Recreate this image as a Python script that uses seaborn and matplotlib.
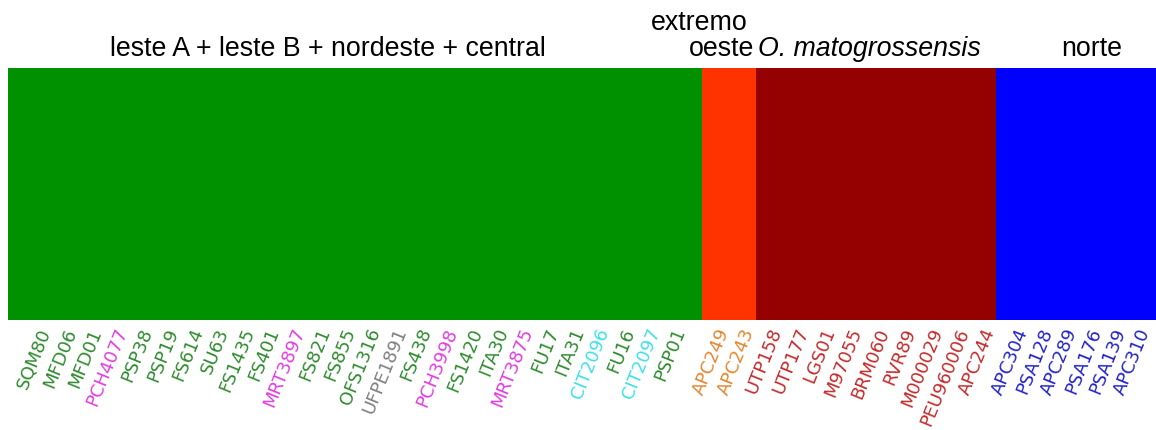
import numpy as np
import pandas as pd
import matplotlib
matplotlib.use("Agg")
import matplotlib.pyplot as plt
import seaborn as sns
from matplotlib.colors import ListedColormap
from matplotlib.transforms import blended_transform_factory

# samples in plot order
samples = ["SQM80", "MFD06", "MFD01", "PCH4077", "PSP38", "PSP19", "FS614", "SU63",
           "FS1435", "FS401", "MRT3897", "FS821", "FS855", "OFS1316", "UFPE1891",
           "FS438", "PCH3998", "FS1420", "ITA30", "MRT3875", "FU17", "ITA31",
           "CIT2096", "FU16", "CIT2097", "PSP01",
           "APC249", "APC243",
           "UTP158", "UTP177", "LGS01", "M97055", "BRM060", "RVR89", "M000029",
           "PEU960006", "APC244",
           "APC304", "PSA128", "APC289", "PSA176", "PSA139", "APC310"]

# cluster assignment (0 = leste/nordeste/central, 1 = extremo oeste,
# 2 = O. matogrossensis, 3 = norte)
cluster = [0] * 26 + [1] * 2 + [2] * 9 + [3] * 6

# label colour class per sample
label_class = ["g", "g", "g", "m", "g", "g", "g", "g", "g", "g", "m", "g", "g", "g",
               "k", "g", "m", "g", "g", "m", "g", "g", "c", "g", "c", "g",
               "o", "o",
               "r", "r", "r", "r", "r", "r", "r", "r", "r",
               "b", "b", "b", "b", "b", "b"]

cluster_colors = ["#009100", "#ff3300", "#950000", "#0000ff"]
label_colors = {"g": "#2f8a2f", "m": "#e03de0", "c": "#3fe0e6", "k": "#808080",
                "o": "#e6862e", "r": "#c42a2a", "b": "#2323c8"}
# labels under each block are packed a bit tighter than the columns
squeeze = [0.95, 0.95, 1.0, 0.91]

df = pd.DataFrame([cluster], columns=samples)

fig = plt.figure(figsize=(11.56, 4.30), dpi=100)
ax = fig.add_axes([8 / 1156, 1 - 320 / 430, 1 - 8 / 1156, 252 / 430])

sns.heatmap(df, cmap=ListedColormap(cluster_colors), vmin=-0.5, vmax=3.5,
            cbar=False, xticklabels=samples, yticklabels=False, ax=ax)

# tick positions: column centres, squeezed towards the centre of each block
centres = np.arange(len(samples)) + 0.5
cl = np.array(cluster)
pos = centres.copy()
for g in range(4):
    m = cl == g
    c = centres[m].mean()
    pos[m] = c + (centres[m] - c) * squeeze[g]
ax.set_xticks(pos, samples)

ax.tick_params(axis="x", length=0, pad=4)
for lab, cls in zip(ax.get_xticklabels(), label_class):
    lab.set_rotation(68)
    lab.set_ha("right")
    lab.set_rotation_mode("anchor")
    lab.set_fontsize(13)
    lab.set_color(label_colors[cls])

# group headers
tr = blended_transform_factory(ax.transData, ax.transAxes)
hfont = dict(family="Liberation Sans", fontsize=19.3, color="black")
ax.text(12.0, 1.048, "leste A + leste B + nordeste + central", ha="center",
        va="baseline", transform=tr, **hfont)
ax.text(25.9, 1.151, "extremo", ha="center", va="baseline", transform=tr, **hfont)
ax.text(27.95, 1.048, "oeste", ha="right", va="baseline", transform=tr, **hfont)
ax.text(32.25, 1.048, "O. matogrossensis", ha="center", va="baseline",
        style="italic", transform=tr, **hfont)
ax.text(40.6, 1.048, "norte", ha="center", va="baseline", transform=tr, **hfont)

fig.savefig("out.png", dpi=100)
